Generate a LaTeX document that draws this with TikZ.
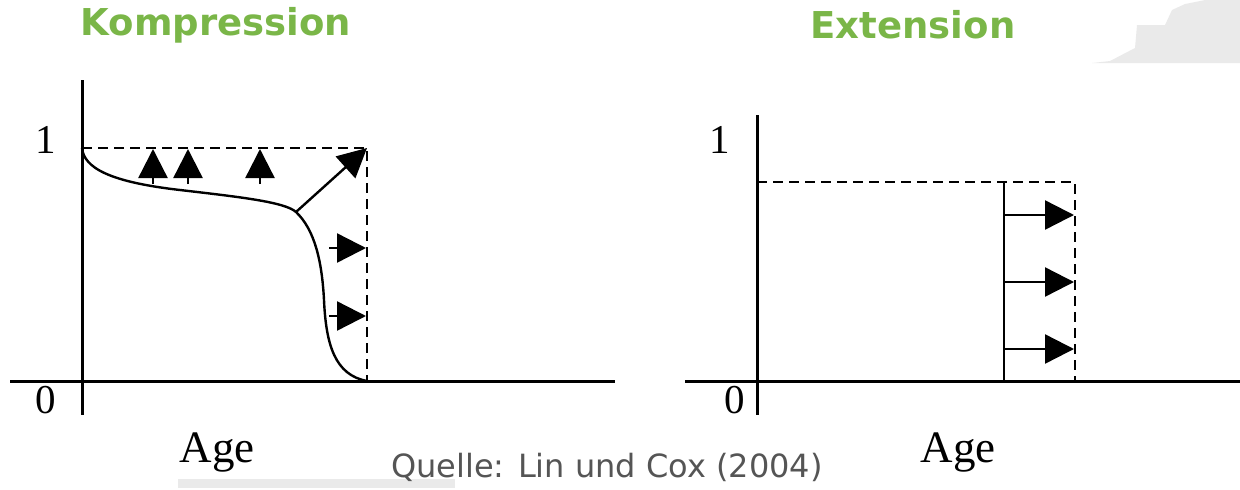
\documentclass[tikz,border=0pt]{standalone}
\usepackage{fontspec}
\setmainfont{Liberation Serif}
\newfontfamily\headfont{DejaVu Sans}
\usetikzlibrary{arrows.meta}
\definecolor{titlegreen}{HTML}{7AB648}
\definecolor{srcgray}{HTML}{555555}
\definecolor{smudge}{HTML}{EAEAEA}

\begin{document}
\begin{tikzpicture}[x=1pt, y=-1pt,
  axis/.style={line width=3pt, black},
  dashln/.style={line width=2.4pt, dash pattern=on 10pt off 6pt},
  curve/.style={line width=2.4pt},
  push/.style={line width=2.4pt, -{Triangle[length=29pt, width=29pt]}},
  ttl/.style={font=\headfont\bfseries\fontsize{37}{40}\selectfont, text=titlegreen},
  tick/.style={font=\fontsize{41}{44}\selectfont, inner sep=0pt},
  xlab/.style={font=\fontsize{45}{48}\selectfont, inner sep=0pt}]
  \useasboundingbox (0,0) rectangle (1240,490);
  % scan smudges
  \fill[smudge] (1092,63) -- (1110,61) -- (1135,48) -- (1137,25) -- (1165,25)
    -- (1172,10) -- (1185,4) -- (1205,0) -- (1240,0) -- (1240,63) -- cycle;
  \fill[smudge] (178,479) rectangle (455,488);
  % titles
  \node[ttl] (kompr) at (216,25) {Kompression};
  \node[ttl] (ext) at (913,25) {Extension};
  % left panel: compression
  \coordinate (ly0) at (82,80);
  \coordinate (ly1) at (82,415);
  \coordinate (lx0) at (10,381);
  \coordinate (lx1) at (615,381);
  \coordinate (ltop) at (82,148);
  \coordinate (lcorner) at (367,148);
  \coordinate (lfoot) at (367,381);
  \coordinate (lbend) at (296,212);
  \draw[axis] (ly0) -- (ly1);
  \draw[axis] (lx0) -- (lx1);
  \draw[dashln] (ltop) -- (lcorner) -- (lfoot);
  \draw[curve] (ltop) .. controls (84,168) and (110,182) .. (180,190)
    .. controls (240,197) and (285,202) .. (lbend)
    .. controls (315,230) and (322,262) .. (324,300)
    .. controls (326,345) and (335,375) .. (lfoot);
  \foreach \x in {153,188,260} {
    \coordinate (ua\x) at (\x,184);
    \coordinate (ub\x) at (\x,149);
    \draw[push] (ua\x) -- (ub\x);
  }
  \draw[push] (lbend) -- (lcorner);
  \foreach \y in {248,316} {
    \coordinate (ra\y) at (329,\y);
    \coordinate (rb\y) at (366,\y);
    \draw[push] (ra\y) -- (rb\y);
  }
  \node[tick] (lone) at (46,140) {1};
  \node[tick] (lzero) at (46,400) {0};
  \node[xlab] (lage) at (217,452) {Age};
  % right panel: extension
  \coordinate (ry0) at (757,115);
  \coordinate (ry1) at (757,415);
  \coordinate (rx0) at (685,381);
  \coordinate (rx1) at (1240,381);
  \coordinate (rtop) at (757,182);
  \coordinate (rcorner) at (1075,182);
  \coordinate (rfoot) at (1075,381);
  \coordinate (rfront) at (1004,182);
  \coordinate (rbase) at (1004,381);
  \draw[axis] (ry0) -- (ry1);
  \draw[axis] (rx0) -- (rx1);
  \draw[dashln] (rtop) -- (rcorner) -- (rfoot);
  \draw[curve] (rfront) -- (rbase);
  \foreach \y in {215,282,349} {
    \coordinate (ea\y) at (1004,\y);
    \coordinate (eb\y) at (1074,\y);
    \draw[push] (ea\y) -- (eb\y);
  }
  \node[tick] (rone) at (720,140) {1};
  \node[tick] (rzero) at (735,400) {0};
  \node[xlab] (rage) at (958,452) {Age};
  % source
  \node[font=\headfont\fontsize{32}{36}\selectfont, text=srcgray] (src) at (607,467) {Quelle: Lin und Cox (2004)};
\end{tikzpicture}
\end{document}
